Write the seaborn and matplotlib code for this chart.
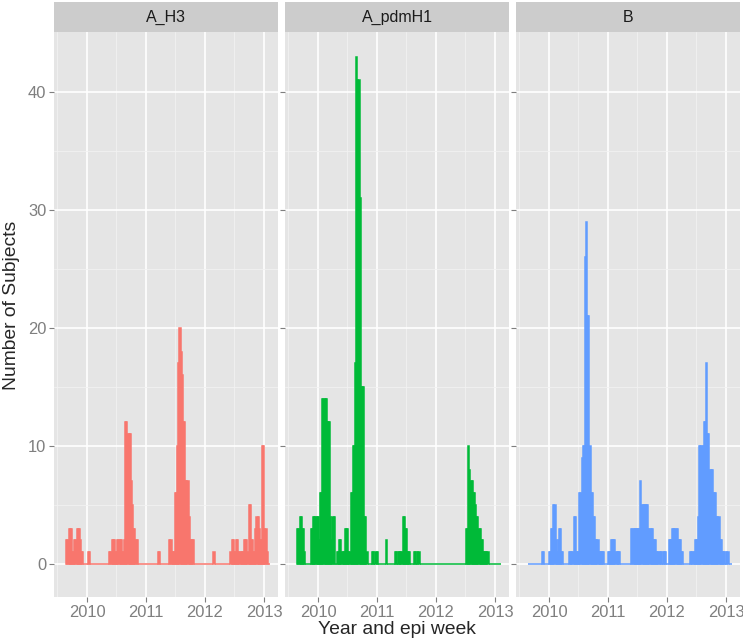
import pandas as pd
import seaborn as sns
import matplotlib.pyplot as plt
import matplotlib.dates as mdates
from matplotlib.patches import Rectangle

# weekly counts, one value per epi week starting at first_week
first_week = "2009-08-30"
subtypes = ["A_H3", "A_pdmH1", "B"]
colors = ["#F8766D", "#00BA38", "#619CFF"]

a_h3 = [
    2, 2, 3, 3, 3, 1, 1, 2, 2, 3,
    3, 3, 2, 1, 1, 0, 0, 0, 0, 1,
    1, 0, 0, 0, 0, 0, 0, 0, 0, 0,
    0, 0, 0, 0, 0, 0, 0, 0, 1, 1,
    2, 2, 2, 1, 1, 2, 2, 2, 2, 1,
    1, 2, 12, 12, 11, 11, 11, 7, 5, 3,
    3, 2, 2, 0, 0, 0, 0, 0, 0, 0,
    0, 0, 0, 0, 0, 0, 0, 0, 0, 0,
    0, 1, 1, 0, 0, 0, 0, 0, 0, 0,
    0, 2, 2, 1, 1, 1, 6, 6, 10, 17,
    20, 18, 16, 12, 12, 7, 7, 7, 4, 2,
    2, 2, 2, 0, 0, 0, 0, 0, 0, 0,
    0, 0, 0, 0, 0, 0, 0, 0, 0, 0,
    1, 0, 0, 0, 0, 0, 0, 0, 0, 0,
    0, 0, 0, 0, 0, 1, 2, 2, 1, 1,
    2, 2, 1, 1, 1, 1, 1, 2, 2, 2,
    1, 5, 5, 2, 2, 1, 1, 3, 4, 4,
    3, 2, 2, 10, 10, 3, 3, 1, 0, 0,
]

a_pdmh1 = [
    3, 3, 4, 4, 3, 3, 1, 0, 0, 0,
    0, 0, 3, 3, 4, 4, 4, 4, 4, 2,
    6, 6, 14, 14, 14, 14, 12, 12, 12, 4,
    2, 4, 4, 0, 0, 1, 1, 2, 2, 1,
    1, 1, 3, 3, 3, 1, 1, 6, 6, 10,
    10, 17, 43, 41, 41, 31, 15, 15, 15, 4,
    4, 1, 0, 0, 0, 0, 1, 1, 0, 1,
    1, 0, 0, 0, 0, 0, 0, 0, 2, 0,
    0, 0, 0, 0, 0, 0, 1, 1, 0, 1,
    1, 1, 1, 4, 4, 3, 3, 1, 1, 1,
    0, 0, 0, 1, 1, 0, 1, 1, 0, 0,
    0, 0, 0, 0, 0, 0, 0, 0, 0, 0,
    0, 0, 0, 0, 0, 0, 0, 0, 0, 0,
    0, 0, 0, 0, 0, 0, 0, 0, 0, 0,
    0, 0, 0, 0, 0, 0, 0, 0, 0, 3,
    3, 10, 8, 7, 7, 6, 6, 5, 4, 4,
    3, 3, 2, 2, 1, 1, 1, 1, 1, 0,
    0, 0, 0, 0, 0, 0, 0, 0, 0, 0,
]

flu_b = [
    0, 0, 0, 0, 0, 0, 0, 0, 0, 0,
    0, 0, 1, 1, 0, 0, 0, 0, 1, 1,
    3, 3, 5, 5, 2, 1, 2, 3, 3, 1,
    1, 0, 0, 0, 0, 0, 1, 1, 1, 1,
    4, 4, 1, 1, 1, 6, 6, 9, 10, 10,
    26, 29, 21, 21, 10, 6, 6, 4, 4, 2,
    2, 2, 1, 1, 1, 1, 1, 0, 0, 0,
    1, 1, 1, 2, 2, 2, 2, 1, 1, 1,
    1, 0, 0, 0, 0, 0, 0, 0, 0, 0,
    0, 3, 3, 3, 3, 3, 3, 3, 3, 7,
    5, 5, 5, 5, 5, 5, 3, 3, 3, 3,
    2, 2, 2, 1, 1, 1, 1, 1, 0, 1,
    1, 1, 0, 0, 2, 2, 2, 3, 3, 3,
    3, 3, 2, 2, 2, 1, 1, 0, 0, 0,
    0, 0, 0, 1, 1, 1, 1, 2, 2, 2,
    4, 10, 10, 10, 10, 12, 12, 17, 11, 11,
    8, 8, 8, 6, 6, 6, 4, 4, 4, 2,
    2, 1, 1, 1, 0, 1, 1, 0, 0, 0,
]

# long format table for the facet grid
weeks = pd.date_range(first_week, periods=len(a_h3), freq="7D")
frames = []
for name, counts in zip(subtypes, [a_h3, a_pdmh1, flu_b]):
    frames.append(pd.DataFrame({"week": weeks, "count": counts, "subtype": name}))
df = pd.concat(frames, ignore_index=True)
df["week_num"] = mdates.date2num(df["week"])

sns.set_theme(style="darkgrid")
plt.rcParams["font.family"] = ["Liberation Sans", "DejaVu Sans"]


def weekly_bars(data, x, y, color=None, label=None, **kws):
    ax = plt.gca()
    ax.bar(data[x], data[y], width=7, color=color, edgecolor=color,
           linewidth=1.1, align="center", zorder=3)


g = sns.FacetGrid(df, col="subtype", hue="subtype", palette=colors,
                  col_order=subtypes, hue_order=subtypes,
                  sharex=True, sharey=True, height=5.7, aspect=0.39)
g.map_dataframe(weekly_bars, x="week_num", y="count")
g.set_titles("")
g.set_axis_labels("", "")

fig = g.figure
fig.set_size_inches(7.43, 6.41)
fig.set_dpi(100)
fig.subplots_adjust(left=54 / 743, right=740 / 743, bottom=(641 - 597) / 641,
                    top=(641 - 32) / 641, wspace=7 / 224)

year_ticks = [mdates.date2num(pd.Timestamp(f"{y}-01-01")) for y in range(2010, 2014)]
mid_ticks = [mdates.date2num(pd.Timestamp(f"{y}-07-01")) for y in range(2009, 2013)]
xmin = mdates.date2num(pd.Timestamp("2009-06-11"))
xmax = mdates.date2num(pd.Timestamp("2013-03-28"))

strip_h = 29.5 / 565
for ax, name in zip(g.axes.flat, subtypes):
    ax.set_facecolor("#E5E5E5")
    ax.set_xlim(xmin, xmax)
    ax.set_ylim(-2.8, 45.08)
    ax.set_xticks(year_ticks)
    ax.set_xticklabels([str(y) for y in range(2010, 2014)])
    ax.set_xticks(mid_ticks, minor=True)
    ax.set_yticks([0, 10, 20, 30, 40])
    ax.set_yticks([5, 15, 25, 35], minor=True)
    ax.grid(which="major", color="white", linewidth=1.2, zorder=0)
    ax.grid(which="minor", color="#F2F2F2", linewidth=0.6, zorder=0)
    ax.set_axisbelow(True)
    for sp in ax.spines.values():
        sp.set_visible(False)
    ax.tick_params(which="major", length=3.6, width=0.8, color="#7F7F7F",
                   labelcolor="#7F7F7F", labelsize=11.9, pad=2,
                   bottom=True, left=True)
    ax.tick_params(which="minor", length=0)
    ax.add_patch(Rectangle((0, 1), 1, strip_h, transform=ax.transAxes,
                           facecolor="#CCCCCC", edgecolor="none", clip_on=False))
    ax.text(0.5, 1 + strip_h / 2, name, transform=ax.transAxes, ha="center",
            va="center", fontsize=11.5, color="#1A1A1A")

fig.text(397 / 743, 1 - 630 / 641, "Year and epi week", ha="center", va="center",
         fontsize=13.9)
fig.text(12 / 743, 1 - 305 / 641, "Number of Subjects", ha="center", va="center",
         rotation=90, fontsize=13.9)

fig.savefig("out.png", dpi=100, facecolor="white")
